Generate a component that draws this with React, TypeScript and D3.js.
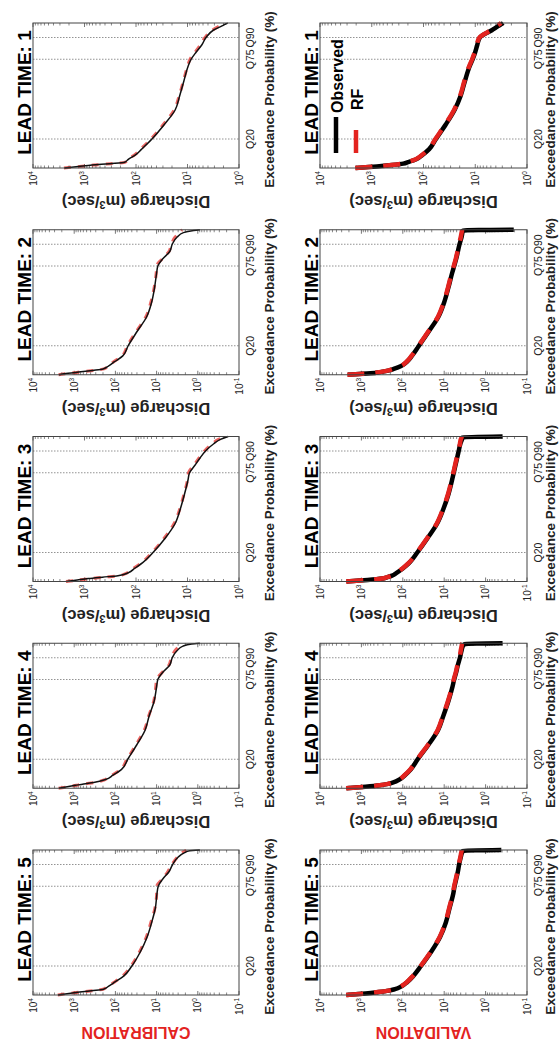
import React from "react";
import * as d3 from "d3";

// the figure is drawn unrotated (W x H) and turned -90deg onto the page
const W = 1041;
const H = 559;
const FONT = "Arial, 'Liberation Sans', Helvetica, sans-serif";
const RED = "#e3231f";

const LEAD_TIMES = [5, 4, 3, 2, 1];
const EXCEEDANCE = [0, 1, 2, 3, 4, 6, 9, 13, 20, 30, 40, 50, 60, 70, 75, 80, 85, 90, 95, 98, 99.5, 100];
const Q_TICKS = [20, 75, 90];
const Q_LABELS = ["Q20", "Q75", "Q90"];

// lowest decade on the discharge axis, per lead time (5..1)
const CAL_MIN_EXP = [-1, -1, 0, -1, 0];
const VAL_MIN_EXP = [-1, -1, -1, -1, 0];

// log10 of discharge (m3/sec)
const calObsLT5 = [3.39, 3.13, 2.87, 2.58, 2.29, 2.17, 2.01, 1.8, 1.6, 1.39, 1.23, 1.12, 1.03, 0.99, 0.96, 0.85, 0.7, 0.61, 0.48, 0.33, 0.2, -0.05];
const calRfLT5 = [3.4, 3.15, 2.85, 2.55, 2.3, 2.19, 2.02, 1.83, 1.62, 1.41, 1.25, 1.14, 1.04, 1.0, 1.0, 0.86, 0.73, 0.63, 0.5, 0.4, 0.3, 0.28];
const calObsLT4 = [3.37, 3.17, 2.97, 2.77, 2.53, 2.24, 2.06, 1.85, 1.7, 1.48, 1.28, 1.18, 1.06, 1.0, 0.97, 0.85, 0.68, 0.62, 0.5, 0.36, 0.15, -0.05];
const calRfLT4 = [3.38, 3.15, 2.95, 2.74, 2.5, 2.25, 2.08, 1.87, 1.72, 1.5, 1.3, 1.19, 1.07, 1.02, 1.0, 0.86, 0.7, 0.64, 0.55, 0.45, 0.4, 0.38];
const calObsLT3 = [3.35, 3.14, 2.93, 2.65, 2.35, 2.15, 2.03, 1.87, 1.67, 1.43, 1.24, 1.14, 1.06, 0.99, 0.96, 0.86, 0.76, 0.65, 0.49, 0.36, 0.25, 0.21];
const calRfLT3 = [3.36, 3.12, 2.9, 2.62, 2.33, 2.17, 2.05, 1.89, 1.69, 1.45, 1.26, 1.15, 1.07, 1.0, 0.98, 0.88, 0.78, 0.67, 0.52, 0.4, 0.3, 0.28];
const calObsLT2 = [3.37, 3.15, 2.84, 2.55, 2.3, 2.17, 2.02, 1.82, 1.69, 1.47, 1.24, 1.12, 1.05, 1.0, 0.97, 0.85, 0.68, 0.62, 0.5, 0.35, 0.1, -0.05];
const calRfLT2 = [3.38, 3.13, 2.82, 2.52, 2.28, 2.18, 2.04, 1.84, 1.71, 1.49, 1.26, 1.14, 1.06, 1.01, 1.0, 0.86, 0.7, 0.64, 0.55, 0.44, 0.4, 0.38];
const calObsLT1 = [3.39, 3.12, 2.85, 2.51, 2.22, 2.15, 2.01, 1.89, 1.69, 1.45, 1.24, 1.15, 1.07, 0.99, 0.93, 0.83, 0.72, 0.64, 0.5, 0.33, 0.25, 0.22];
const calRfLT1 = [3.4, 3.1, 2.83, 2.49, 2.21, 2.16, 2.03, 1.91, 1.71, 1.47, 1.26, 1.16, 1.08, 1.0, 0.95, 0.85, 0.75, 0.66, 0.52, 0.38, 0.32, 0.3];

const valObsLT5 = [3.36, 2.9, 2.59, 2.34, 2.19, 2.03, 1.89, 1.75, 1.56, 1.31, 1.1, 0.96, 0.87, 0.78, 0.75, 0.71, 0.67, 0.64, 0.6, 0.57, 0.54, -0.38];
const valRfLT5 = [3.37, 2.92, 2.6, 2.35, 2.2, 2.04, 1.9, 1.76, 1.57, 1.32, 1.11, 0.97, 0.88, 0.79, 0.76, 0.72, 0.68, 0.65, 0.61, 0.59, 0.58, 0.58];
const valObsLT4 = [3.36, 2.9, 2.55, 2.35, 2.23, 2.08, 1.95, 1.81, 1.64, 1.38, 1.15, 1.02, 0.9, 0.8, 0.76, 0.71, 0.67, 0.62, 0.58, 0.55, 0.5, -0.41];
const valRfLT4 = [3.37, 2.91, 2.56, 2.36, 2.24, 2.09, 1.96, 1.82, 1.65, 1.39, 1.16, 1.03, 0.91, 0.81, 0.77, 0.72, 0.68, 0.63, 0.6, 0.58, 0.57, 0.56];
const valObsLT3 = [3.36, 2.85, 2.5, 2.37, 2.26, 2.15, 2.0, 1.84, 1.65, 1.4, 1.17, 1.02, 0.9, 0.81, 0.77, 0.73, 0.69, 0.65, 0.61, 0.57, 0.55, -0.41];
const valRfLT3 = [3.37, 2.86, 2.51, 2.38, 2.27, 2.16, 2.01, 1.85, 1.66, 1.41, 1.18, 1.03, 0.91, 0.82, 0.78, 0.74, 0.7, 0.66, 0.62, 0.6, 0.58, 0.58];
const valObsLT2 = [3.33, 2.78, 2.52, 2.33, 2.22, 2.04, 1.9, 1.78, 1.61, 1.37, 1.14, 1.0, 0.9, 0.81, 0.76, 0.71, 0.67, 0.63, 0.58, 0.56, 0.55, -0.68];
const valRfLT2 = [3.34, 2.8, 2.53, 2.34, 2.23, 2.05, 1.91, 1.79, 1.62, 1.38, 1.15, 1.01, 0.91, 0.82, 0.77, 0.72, 0.68, 0.64, 0.6, 0.58, 0.57, 0.57];
const valObsLT1 = [3.31, 2.9, 2.61, 2.39, 2.3, 2.14, 2.02, 1.89, 1.76, 1.57, 1.4, 1.28, 1.2, 1.11, 1.05, 1.0, 0.96, 0.91, 0.68, 0.55, 0.48, 0.46];
const valRfLT1 = [3.32, 2.91, 2.62, 2.4, 2.31, 2.15, 2.03, 1.9, 1.77, 1.58, 1.41, 1.29, 1.21, 1.12, 1.06, 1.01, 0.97, 0.92, 0.7, 0.58, 0.52, 0.5];

const CAL_OBS = [calObsLT5, calObsLT4, calObsLT3, calObsLT2, calObsLT1];
const CAL_RF = [calRfLT5, calRfLT4, calRfLT3, calRfLT2, calRfLT1];
const VAL_OBS = [valObsLT5, valObsLT4, valObsLT3, valObsLT2, valObsLT1];
const VAL_RF = [valRfLT5, valRfLT4, valRfLT3, valRfLT2, valRfLT1];

const PANEL_LEFT = 46;
const PANEL_STEP = 206.75;
const PANEL_W = 145;
const ROWS = [
  { name: "CALIBRATION", top: 33, bottom: 239, minExp: CAL_MIN_EXP, obs: CAL_OBS, rf: CAL_RF, thick: false, xlab: 35 },
  { name: "VALIDATION", top: 320, bottom: 527, minExp: VAL_MIN_EXP, obs: VAL_OBS, rf: VAL_RF, thick: true, xlab: 28 },
];

const Panel = ({ row, i }) => {
  const left = PANEL_LEFT + i * PANEL_STEP;
  const x = d3.scaleLinear().domain([0, 100]).range([left, left + PANEL_W]);
  const y = d3.scaleLog().domain([1e4, Math.pow(10, row.minExp[i])]).range([row.top, row.bottom]);
  const line = d3
    .line<number>()
    .x((_, k) => x(EXCEEDANCE[k]))
    .y((v) => y(Math.pow(10, v)))
    .curve(d3.curveMonotoneX);
  const decades = d3.range(row.minExp[i], 5);
  const minor = y.ticks().filter((t) => Math.abs(Math.log10(t) - Math.round(Math.log10(t))) > 1e-6);
  const cx = left + PANEL_W / 2;
  const cy = (row.top + row.bottom) / 2;
  const obs = row.obs[i];
  const rf = row.rf[i];

  return (
    <g>
      {Q_TICKS.map((q) => (
        <line key={q} x1={x(q)} x2={x(q)} y1={row.top} y2={row.bottom} stroke="#777" strokeWidth={0.8} strokeDasharray="1.5,1.5" />
      ))}
      {minor.map((t, k) => (
        <g key={k} stroke="#555" strokeWidth={0.7}>
          <line x1={left} x2={left + 2.5} y1={y(t)} y2={y(t)} />
          <line x1={left + PANEL_W} x2={left + PANEL_W - 2.5} y1={y(t)} y2={y(t)} />
        </g>
      ))}
      {decades.map((e) => (
        <g key={e} stroke="#555" strokeWidth={0.8}>
          <line x1={left} x2={left + 4} y1={y(Math.pow(10, e))} y2={y(Math.pow(10, e))} />
          <line x1={left + PANEL_W} x2={left + PANEL_W - 4} y1={y(Math.pow(10, e))} y2={y(Math.pow(10, e))} />
        </g>
      ))}
      {row.thick ? (
        <g fill="none">
          <path d={line(obs)!} stroke="#000" strokeWidth={4.5} strokeLinejoin="round" />
          <path d={line(rf)!} stroke={RED} strokeWidth={4.5} strokeDasharray="17,11" />
        </g>
      ) : (
        <g fill="none">
          <path d={line(rf)!} stroke={RED} strokeOpacity={0.7} strokeWidth={3} strokeDasharray="7,7" />
          <path d={line(obs)!} stroke="#111" strokeWidth={1.5} />
        </g>
      )}
      <rect x={left} y={row.top} width={PANEL_W} height={row.bottom - row.top} fill="none" stroke="#444" strokeWidth={1} />
      {decades.map((e) => (
        <text key={e} x={left - 3} y={y(Math.pow(10, e)) + 3.5} textAnchor="end" fontSize={10} fill="#222">
          10<tspan dy={-4} fontSize={6.5}>{e}</tspan>
        </text>
      ))}
      {Q_TICKS.map((q, k) => (
        <text key={q} x={x(q)} y={row.bottom + 15} textAnchor="middle" fontSize={10.5} fill="#222">
          {Q_LABELS[k]}
        </text>
      ))}
      <text x={cx - 4} y={row.bottom + row.xlab} textAnchor="middle" fontSize={13.5} fontWeight="bold" fill="#222">
        Exceedance Probability (%)
      </text>
      <text x={cx + 3} y={row.top - 2} textAnchor="middle" fontSize={19} fontWeight="bold" fill="#000">
        {`LEAD TIME: ${LEAD_TIMES[i]}`}
      </text>
      {i > 0 ? (
        <text transform={`translate(${left - 28},${cy}) rotate(-90)`} textAnchor="middle" fontSize={16.5} fontWeight="bold" fill="#222">
          Discharge (m<tspan dy={-5} fontSize={11}>3</tspan>
          <tspan dy={5}>/sec)</tspan>
        </text>
      ) : (
        <text transform={`translate(14,${cy}) rotate(-90)`} textAnchor="middle" fontSize={16} fontWeight="bold" fill={RED}>
          {row.name}
        </text>
      )}
    </g>
  );
};

const Legend = () => {
  const left = PANEL_LEFT + 4 * PANEL_STEP;
  return (
    <g fontFamily={FONT} fontWeight="bold" fontSize={16} fill="#000">
      <line x1={left + 15} x2={left + 51} y1={336} y2={336} stroke="#000" strokeWidth={4.5} />
      <text x={left + 55} y={343}>Observed</text>
      <line x1={left + 15} x2={left + 38} y1={356} y2={356} stroke={RED} strokeWidth={4.5} />
      <text x={left + 58} y={363}>RF</text>
    </g>
  );
};

export default function App() {
  return (
    <svg width={H} height={W} style={{ position: "absolute", left: 0, top: 0, background: "#fff" }} fontFamily={FONT}>
      <rect width={H} height={W} fill="#fff" />
      <g transform={`translate(0,${W}) rotate(-90)`}>
        {ROWS.map((row) => (
          <g key={row.name}>
            {LEAD_TIMES.map((lt, i) => (
              <Panel key={lt} row={row} i={i} />
            ))}
          </g>
        ))}
        <Legend />
      </g>
    </svg>
  );
}
